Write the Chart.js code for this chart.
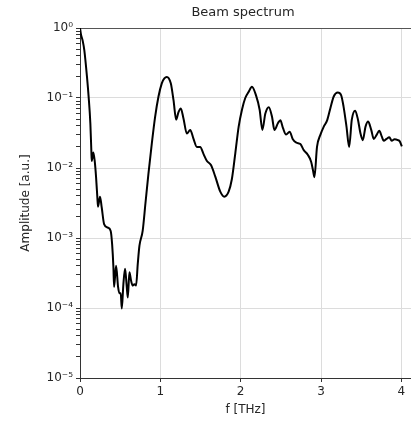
<!DOCTYPE html>
<html>
<head>
<meta charset="utf-8">
<script src="https://cdn.jsdelivr.net/npm/chart.js@4/dist/chart.umd.min.js"></script>
<style>
  body { margin: 0; background: #fff; }
</style>
</head>
<body>
<canvas id="graph" width="411" height="421"></canvas>
<script>
// frequency in THz, amplitude in a.u.
const freq = [
  0.000, 0.012, 0.033, 0.054, 0.087, 0.108, 0.129, 0.141, 0.146, 0.166,
  0.183, 0.200, 0.216, 0.224, 0.249, 0.270, 0.300, 0.345, 0.382, 0.400,
  0.416, 0.424, 0.449, 0.474, 0.490, 0.507, 0.520, 0.540, 0.561, 0.582,
  0.595, 0.615, 0.636, 0.657, 0.677, 0.698, 0.719, 0.740, 0.780, 0.815,
  0.852, 0.894, 0.935, 0.977, 1.018, 1.050, 1.080, 1.130, 1.164, 1.197,
  1.226, 1.255, 1.288, 1.330, 1.372, 1.413, 1.455, 1.496, 1.538, 1.580,
  1.630, 1.683, 1.746, 1.796, 1.850, 1.890, 1.933, 1.975, 2.016, 2.057,
  2.100, 2.140, 2.190, 2.236, 2.270, 2.307, 2.350, 2.390, 2.420, 2.465,
  2.494, 2.527, 2.565, 2.610, 2.647, 2.693, 2.743, 2.785, 2.835, 2.877,
  2.900, 2.918, 2.950, 2.993, 3.034, 3.076, 3.117, 3.158, 3.208, 3.250,
  3.280, 3.317, 3.350, 3.383, 3.425, 3.460, 3.490, 3.520, 3.554, 3.587,
  3.625, 3.657, 3.690, 3.725, 3.757, 3.780, 3.815, 3.850, 3.880, 3.915,
  3.957, 3.980, 4.006
];
const amp = [
  1.0, 0.81, 0.66, 0.48, 0.20, 0.102, 0.043, 0.0178, 0.0126, 0.0166,
  0.0126, 0.0074, 0.0038, 0.0028, 0.0039, 0.00275, 0.00158, 0.00141, 0.00126, 0.00081,
  0.00038, 0.00020, 0.00040, 0.00020, 0.000162, 0.000162, 0.000098, 0.000219, 0.000363, 0.00020,
  0.000141, 0.000324, 0.000245, 0.000209, 0.000219, 0.000209, 0.000427, 0.000776, 0.00126, 0.00316,
  0.0083, 0.0224, 0.0537, 0.105, 0.162, 0.19, 0.20, 0.162, 0.093, 0.049,
  0.063, 0.071, 0.051, 0.031, 0.035, 0.026, 0.020, 0.020, 0.0158, 0.0126,
  0.011, 0.0076, 0.0046, 0.0039, 0.0046, 0.0069, 0.0162, 0.039, 0.068, 0.10,
  0.123, 0.145, 0.11, 0.068, 0.035, 0.060, 0.074, 0.054, 0.035, 0.044,
  0.048, 0.037, 0.030, 0.033, 0.026, 0.023, 0.022, 0.018, 0.0155, 0.0123,
  0.0093, 0.0074, 0.020, 0.030, 0.039, 0.048, 0.072, 0.105, 0.12, 0.11,
  0.076, 0.039, 0.020, 0.049, 0.066, 0.049, 0.0316, 0.025, 0.039, 0.046,
  0.035, 0.026, 0.0295, 0.034, 0.028, 0.0245, 0.026, 0.0275, 0.0245, 0.0257,
  0.025, 0.024, 0.0204
];
const decadeLabels = ['10⁰', '10⁻¹', '10⁻²', '10⁻³', '10⁻⁴', '10⁻⁵'];

const fontName = 'DejaVu Sans';
const textColor = '#262626';

// log ticks: 1..9 x 10^n between 1e-5 and 1
const yTickValues = [];
for (let e = -5; e < 0; e++) {
  for (let s = 1; s < 10; s++) yTickValues.push(s * Math.pow(10, e));
}
yTickValues.push(1);

function isMajor(v) {
  const l = Math.log10(v);
  return Math.abs(l - Math.round(l)) < 1e-6;
}

const titlePlugin = {
  id: 'plotTitle',
  afterDraw(chart) {
    const c = chart.ctx;
    c.save();
    c.font = '13px "' + fontName + '"';
    c.fillStyle = textColor;
    c.textAlign = 'center';
    c.textBaseline = 'middle';
    c.fillText('Beam spectrum', 243, 13);
    c.restore();
  }
};

var ctx = document.getElementById('graph').getContext('2d');

new Chart(ctx, {
  type: 'line',
  data: {
    datasets: [{
      data: freq.map((f, i) => ({ x: f, y: amp[i] })),
      borderColor: '#000',
      borderWidth: 2,
      pointRadius: 0,
      cubicInterpolationMode: 'monotone',
      fill: false
    }]
  },
  options: {
    responsive: false,
    animation: false,
    layout: { padding: { top: 28, left: 0, right: 0, bottom: 0 } },
    plugins: {
      legend: { display: false },
      title: { display: false },
      tooltip: { enabled: false }
    },
    scales: {
      x: {
        type: 'linear',
        min: 0,
        max: 4.12,
        afterFit: s => { s.height = 43; },
        ticks: {
          stepSize: 1,
          includeBounds: false,
          color: textColor,
          font: { family: fontName, size: 12 },
          padding: 3
        },
        grid: {
          color: c => (c.tick && c.tick.value === 0) ? 'transparent' : '#dcdcdc',
          tickColor: '#333',
          tickLength: 4
        },
        border: { color: '#333', width: 1 },
        title: {
          display: true,
          text: 'f [THz]',
          color: textColor,
          font: { family: fontName, size: 12 },
          padding: { top: 0, bottom: 4 }
        }
      },
      y: {
        type: 'logarithmic',
        min: 1e-5,
        max: 1,
        afterFit: s => { s.width = 80; },
        afterBuildTicks: s => { s.ticks = yTickValues.map(v => ({ value: v, major: isMajor(v) })); },
        ticks: {
          autoSkip: false,
          color: textColor,
          font: { family: fontName, size: 12 },
          padding: 3,
          callback: v => isMajor(v) ? decadeLabels[-Math.round(Math.log10(v))] : ''
        },
        grid: {
          color: c => {
            if (!c.tick) return 'transparent';
            if (c.tick.value === 1) return '#555';
            return isMajor(c.tick.value) ? '#dcdcdc' : 'transparent';
          },
          tickColor: '#333',
          tickLength: 4
        },
        border: { color: '#333', width: 1 },
        title: {
          display: true,
          text: 'Amplitude [a.u.]',
          color: textColor,
          font: { family: fontName, size: 12 },
          padding: { top: 19, bottom: 0 }
        }
      }
    }
  },
  plugins: [titlePlugin]
});
</script>
</body>
</html>
